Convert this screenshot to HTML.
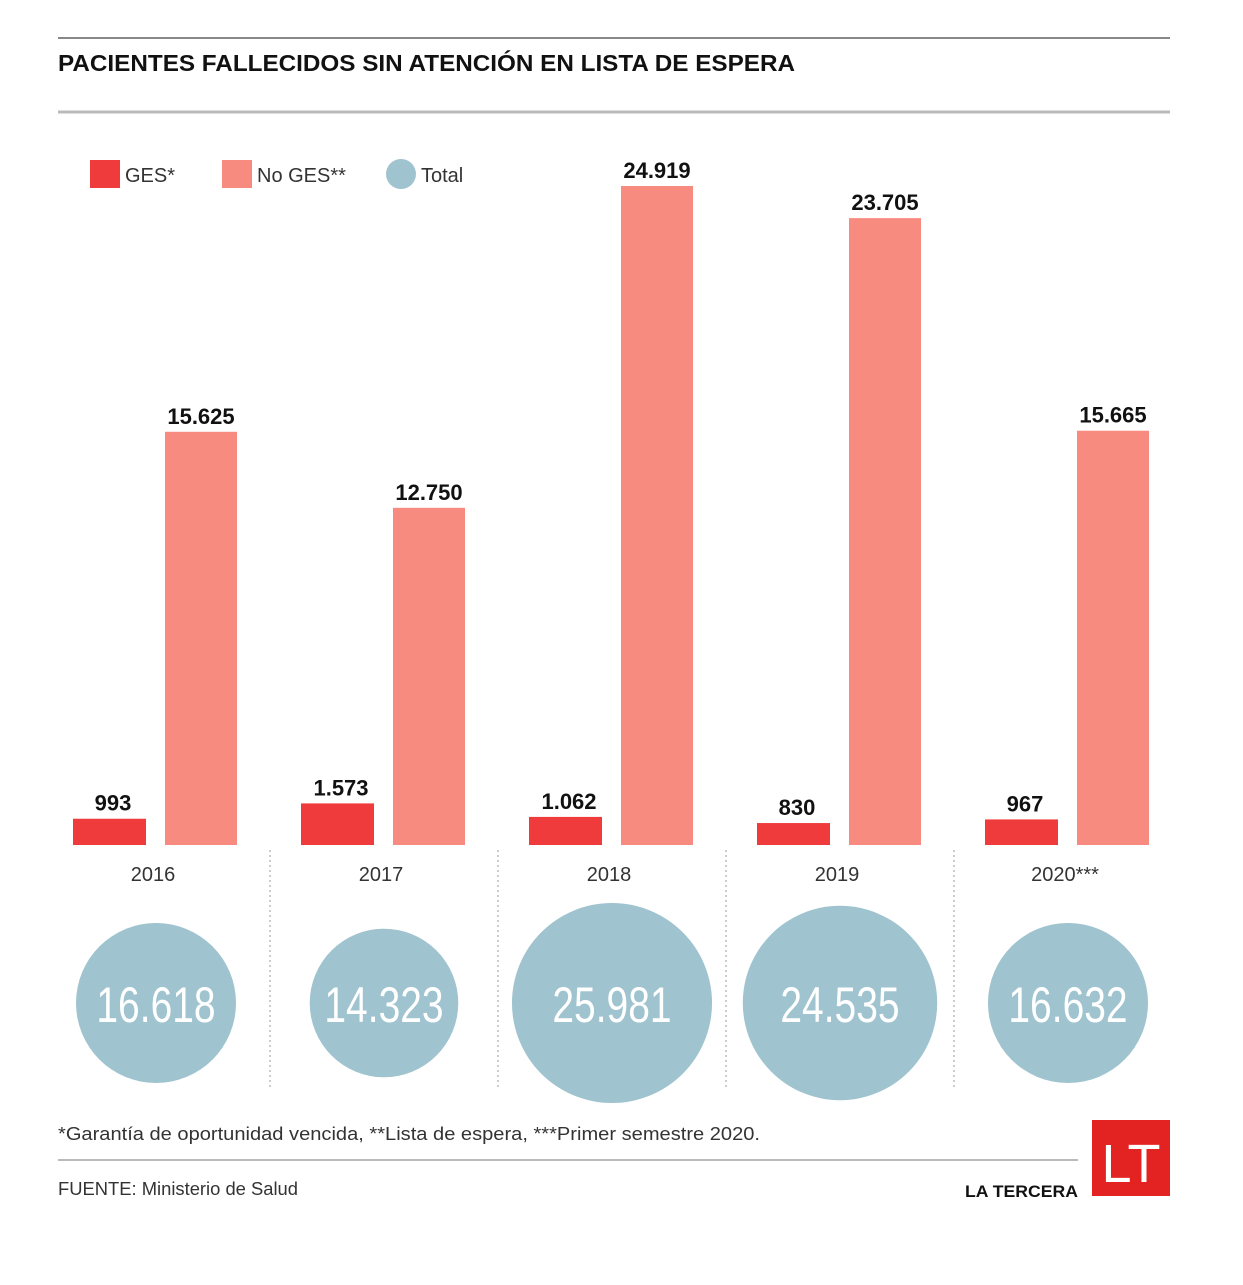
<!DOCTYPE html>
<html><head><meta charset="utf-8"><style>
body{margin:0;background:#fff;width:1243px;height:1280px;overflow:hidden;font-family:"Liberation Sans",sans-serif}
svg text{font-family:"Liberation Sans",sans-serif}
</style></head><body>
<svg width="1243" height="1280">
<line x1="58" y1="38" x2="1170" y2="38" stroke="#888" stroke-width="2"/>
<text x="58" y="71" font-size="23" font-weight="bold" fill="#111" textLength="737" lengthAdjust="spacingAndGlyphs">PACIENTES FALLECIDOS SIN ATENCIÓN EN LISTA DE ESPERA</text>
<line x1="58" y1="112" x2="1170" y2="112" stroke="#bbb" stroke-width="3"/>
<g>
<rect x="90" y="160" width="30" height="28" fill="#ef3b3b"/>
<text x="125" y="182" font-size="20" fill="#333">GES*</text>
<rect x="222" y="160" width="30" height="28" fill="#f78b80"/>
<text x="257" y="182" font-size="20" fill="#333">No GES**</text>
<circle cx="401" cy="174" r="15" fill="#9fc3cf"/>
<text x="421" y="182" font-size="20" fill="#333">Total</text>
</g>
<g id="marks"></g>
<text x="58" y="1140" font-size="18" fill="#333" textLength="702" lengthAdjust="spacingAndGlyphs">*Garantía de oportunidad vencida, **Lista de espera, ***Primer semestre 2020.</text>
<line x1="58" y1="1160" x2="1078" y2="1160" stroke="#bbb" stroke-width="2"/>
<text x="58" y="1195" font-size="18" fill="#333" textLength="240" lengthAdjust="spacingAndGlyphs">FUENTE: Ministerio de Salud</text>
<text x="965" y="1197" font-size="17" font-weight="bold" fill="#111" textLength="113" lengthAdjust="spacingAndGlyphs">LA TERCERA</text>
<rect x="1092" y="1120" width="78" height="76" fill="#e32222"/>
<text x="1131" y="1182" font-size="54" fill="#fff" text-anchor="middle">LT</text>
</svg>
<script>
const years=["2016","2017","2018","2019","2020***"];
const ges=[993,1573,1062,830,967];
const noGes=[15625,12750,24919,23705,15665];
const totals=[16618,14323,25981,24535,16632];
const gesLabels=["993","1.573","1.062","830","967"];
const noGesLabels=["15.625","12.750","24.919","23.705","15.665"];
const totalLabels=["16.618","14.323","25.981","24.535","16.632"];
const NS="http://www.w3.org/2000/svg";
const g=document.getElementById('marks');
const base=845,scale=659/24919;
const y=v=>base-v*scale;
const gx=i=>73+i*228;
function el(t,a,txt){const e=document.createElementNS(NS,t);for(const k in a)e.setAttribute(k,a[k]);if(txt!==undefined)e.textContent=txt;g.appendChild(e);return e;}
years.forEach((yr,i)=>{
 const x=gx(i);
 let e=el('rect',{x:x,y:y(ges[i]),width:73,height:base-y(ges[i]),fill:'#ef3b3b'});
 
 
 e=el('text',{x:x+40,y:y(ges[i])-8,'font-size':22,'font-weight':'bold','text-anchor':'middle',fill:'#111'},gesLabels[i]);
 
 
 e=el('rect',{x:x+92,y:y(noGes[i]),width:72,height:base-y(noGes[i]),fill:'#f78b80'});
 
 
 e=el('text',{x:x+128,y:y(noGes[i])-8,'font-size':22,'font-weight':'bold','text-anchor':'middle',fill:'#111'},noGesLabels[i]);
 
 
 e=el('text',{x:x+80,y:881,'font-size':20,'text-anchor':'middle',fill:'#333'},yr);
 
 
 if(i>0){e=el('line',{x1:x-31,y1:850,x2:x-31,y2:1090,stroke:'#bbb','stroke-width':1.5,'stroke-dasharray':'2 3'});
 
 }
 const r=80*Math.sqrt(totals[i]/totals[0]);
 e=el('circle',{cx:x+83,cy:1003,r:r,fill:'#9fc3cf'});
 
 
 e=el('text',{x:x+83,y:1022,'font-size':50,'text-anchor':'middle',fill:'#fff',transform:`translate(${(x+83)*0.22},0) scale(0.78,1)`},totalLabels[i]);
 
 
});
</script>
</body></html>
